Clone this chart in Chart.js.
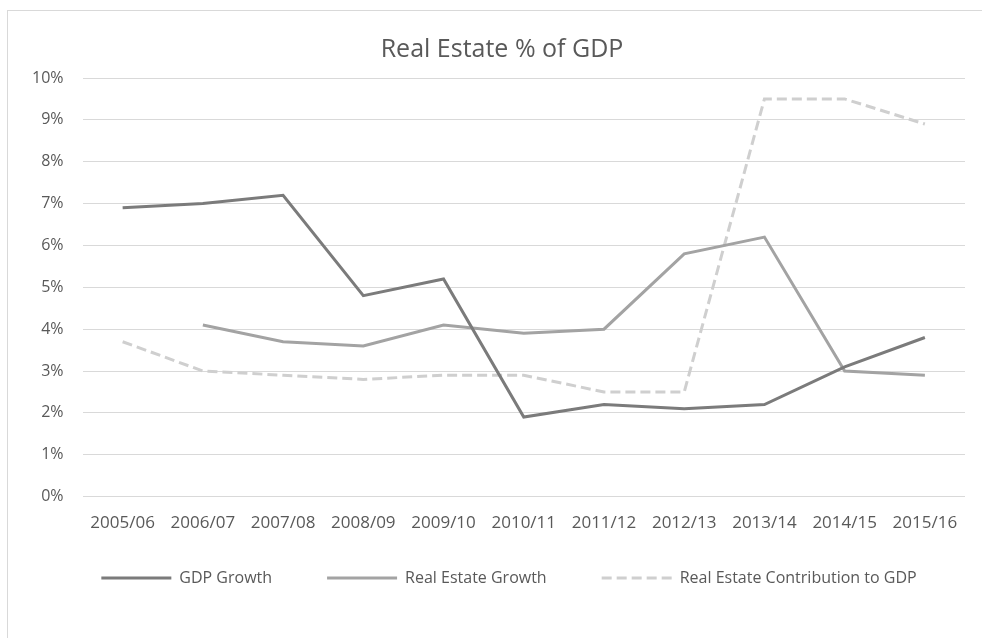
<!DOCTYPE html>
<html>
<head>
<meta charset="utf-8">
<script src="https://cdn.jsdelivr.net/npm/chart.js@4.4.1/dist/chart.umd.min.js"></script>
<style>
  html, body { margin: 0; padding: 0; background: #fff; overflow: hidden; }
  #frame {
    position: absolute; left: 7px; top: 10px;
    width: 990px; height: 640px;
    border: 1px solid #d9d9d9;
    overflow: hidden;
  }
  #wrap { position: absolute; left: 0; top: 0; width: 972px; height: 611px; }
</style>
</head>
<body>
<div id="frame">
  <div id="wrap"><canvas id="chart"></canvas></div>
</div>
<script>
// data
const years = ["2005/06", "2006/07", "2007/08", "2008/09", "2009/10", "2010/11",
               "2011/12", "2012/13", "2013/14", "2014/15", "2015/16"];
const gdpGrowth = [6.9, 7.0, 7.2, 4.8, 5.2, 1.9, 2.2, 2.1, 2.2, 3.1, 3.8];
const realEstateGrowth = [null, 4.1, 3.7, 3.6, 4.1, 3.9, 4.0, 5.8, 6.2, 3.0, 2.9];
const realEstateShare = [3.7, 3.0, 2.9, 2.8, 2.9, 2.9, 2.5, 2.5, 9.5, 9.5, 8.9];

const fontFamily = "'Open Sans', 'Liberation Sans', sans-serif";
const textColor = "#595959";
const legendTextY = 568; // centre of legend text, canvas coords
const legendDx = 20;     // legend is a bit right of centre in the reference
const titleDx = 13;      // same for the title

// legend sits closer to the axis than its padding would allow, so move it after layout
const boxShift = {
  id: "boxShift",
  afterLayout(chart) {
    const lg = chart.legend;
    const h = lg.height;
    lg.top = legendTextY - lg.options.labels.padding - 9;
    lg.bottom = lg.top + h;
    lg.left += legendDx;
    lg.right += legendDx;
    const tb = chart.titleBlock;
    tb.left += titleDx;
    tb.right += titleDx;
  }
};

const ctx = document.getElementById("chart").getContext("2d");
new Chart(ctx, {
  type: "line",
  data: {
    labels: years,
    datasets: [
      {
        label: "GDP Growth",
        data: gdpGrowth,
        borderColor: "#7b7b7b",
        backgroundColor: "#7b7b7b",
        borderWidth: 3
      },
      {
        label: "Real Estate Growth",
        data: realEstateGrowth,
        borderColor: "#a3a3a3",
        backgroundColor: "#a3a3a3",
        borderWidth: 3
      },
      {
        label: "Real Estate Contribution to GDP",
        data: realEstateShare,
        borderColor: "#cfcfcf",
        backgroundColor: "#cfcfcf",
        borderWidth: 3,
        borderDash: [10, 5]
      }
    ]
  },
  plugins: [boxShift],
  options: {
    responsive: true,
    maintainAspectRatio: false,
    animation: false,
    spanGaps: false,
    elements: { point: { radius: 0 }, line: { tension: 0 } },
    layout: { padding: { left: 5, right: 15, top: 24, bottom: 0 } },
    plugins: {
      title: {
        display: true,
        text: "Real Estate % of GDP",
        color: textColor,
        font: { family: fontFamily, size: 25, weight: "normal" },
        padding: { top: 0, bottom: 13 }
      },
      legend: {
        position: "bottom",
        labels: {
          color: textColor,
          font: { family: fontFamily, size: 16 },
          usePointStyle: true,
          pointStyle: "line",
          pointStyleWidth: 70,
          padding: 55,
          generateLabels: function (chart) {
            const items = Chart.defaults.plugins.legend.labels.generateLabels(chart);
            items.forEach(function (item) {
              const ds = chart.data.datasets[item.datasetIndex];
              item.lineDash = ds.borderDash || [];
              item.lineWidth = 3;
              item.strokeStyle = ds.borderColor;
              item.fontColor = textColor;
            });
            return items;
          }
        }
      },
      tooltip: { enabled: false }
    },
    scales: {
      x: {
        offset: true,
        grid: { display: false },
        border: { display: false },
        ticks: {
          color: textColor,
          font: { family: fontFamily, size: 17 },
          maxRotation: 0,
          padding: 8
        }
      },
      y: {
        min: 0,
        max: 10,
        grid: { color: "#d9d9d9", lineWidth: 1, drawTicks: false },
        border: { display: false },
        ticks: {
          stepSize: 1,
          color: textColor,
          font: { family: fontFamily, size: 16 },
          padding: 19,
          callback: function (v) { return v + "%"; }
        }
      }
    }
  }
});
</script>
</body>
</html>
